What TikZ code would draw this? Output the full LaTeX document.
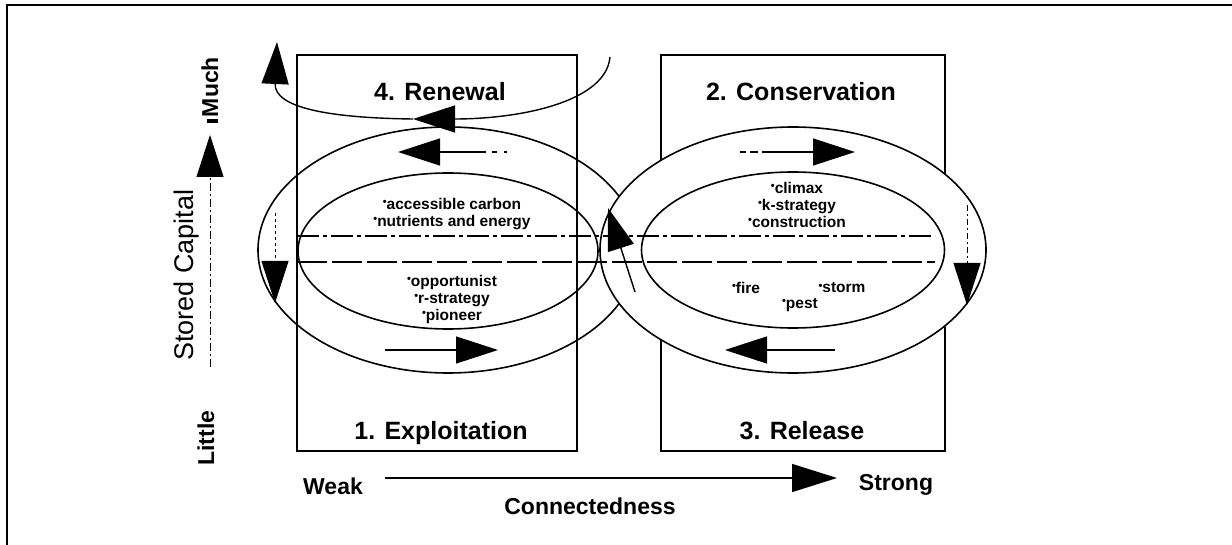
\documentclass[tikz,border=0pt]{standalone}
\usepackage{fontspec}
\setmainfont{Liberation Sans}
\usetikzlibrary{arrows.meta,shapes.geometric}
\newcommand\itm{\raisebox{0.45ex}{\fontsize{11}{11}\selectfont\textbullet}}
\begin{document}
\begin{tikzpicture}[x=1pt,y=-1pt,
  stagebox/.style={draw, line width=1.6pt, inner sep=0pt, outer sep=0pt, anchor=north west},
  loopring/.style={draw, ellipse, line width=1.6pt, inner sep=0pt, outer sep=0pt},
  head/.style={-{Triangle[length=42pt,width=27pt]}, line width=1.4pt},
  stagetitle/.style={font=\fontsize{25}{28}\selectfont\bfseries, anchor=base, inner sep=0pt},
  itemlist/.style={font=\fontsize{15.5}{17}\selectfont\bfseries, align=center, inner sep=0pt},
  axislabel/.style={font=\fontsize{23}{26}\selectfont\bfseries, inner sep=0pt},
  levelline/.style={line width=1.1pt},
]
\useasboundingbox (0,0) rectangle (1232,545);
\clip (0,0) rectangle (1232,545);

% outer frame (runs past the right and bottom edges)
\draw[line width=1.6pt] (7,5) rectangle (1260,570);

% phase boxes
\node[stagebox, minimum width=280pt, minimum height=396pt] (lbox) at (297,55) {};

% left loop: outer and inner rings
\node[loopring, minimum width=380pt, minimum height=246pt] (lout) at (448,250) {};
\node[loopring, minimum width=300pt, minimum height=156pt] (lin) at (448,251) {};

\node[stagebox, minimum width=284pt, minimum height=396pt] (rbox) at (661,55) {};

% right loop sits on top and hides what lies beneath it
\node[loopring, fill=white, minimum width=386pt, minimum height=246pt] (rout) at (793,250) {};
\node[loopring, minimum width=303pt, minimum height=156pt] (rin) at (793,250) {};

% horizontal level lines across both loops
\coordinate (la) at (297,236); \coordinate (lb) at (935,236);
\coordinate (lc) at (297,262); \coordinate (ld) at (935,262);
\draw[levelline, dash pattern=on 22pt off 4pt on 4pt off 4pt] (la) -- (lb);
\draw[levelline, dash pattern=on 30pt off 5pt] (lc) -- (ld);

% phase titles
\node[stagetitle] (t4) at (440,101) {4. Renewal};
\node[stagetitle] (t2) at (801,101) {2. Conservation};
\node[stagetitle] (t1) at (441,439) {1. Exploitation};
\node[stagetitle] (t3) at (802,439) {3. Release};

% contents of the loops
\node[itemlist] (carbon) at (452,214) {\itm accessible carbon\\\itm nutrients and energy};
\node[itemlist] (pioneer) at (452,299) {\itm opportunist\\\itm r-strategy\\\itm pioneer};
\node[itemlist] (climax) at (797,205) {\itm climax\\\itm k-strategy\\\itm construction};
\node[itemlist] (fire) at (746,288) {\itm fire};
\node[itemlist] (storm) at (842,288) {\itm storm};
\node[itemlist] (pest) at (800,305) {\itm pest};

% flow arrows around the loops
\coordinate (b0) at (507,152); \coordinate (b1) at (398,152);
\draw[head, dash pattern=on 3pt off 7pt on 5pt off 6pt on 200pt] (b0) -- (b1);
\coordinate (g0) at (740,152); \coordinate (g1) at (855,152);
\draw[head, dash pattern=on 6pt off 4pt on 8pt off 4pt on 200pt] (g0) -- (g1);
\coordinate (d0) at (385,350); \coordinate (d1) at (498,350);
\draw[head] (d0) -- (d1);
\coordinate (e0) at (835,350); \coordinate (e1) at (725,350);
\draw[head] (e0) -- (e1);
\coordinate (c0) at (275,213); \coordinate (c1) at (275,303);
\draw[head, line width=1pt, dash pattern=on 3pt off 3pt] (c0) -- (c1);
\coordinate (f0) at (967,205); \coordinate (f1) at (967,305);
\draw[head, line width=1pt, dash pattern=on 6pt off 3pt on 2pt off 3pt] (f0) -- (f1);
\coordinate (h0) at (635,292); \coordinate (h1) at (608,208);
\draw[head] (h0) -- (h1);

% renewal exit curve
\coordinate (r0) at (610,57); \coordinate (r1) at (413,119); \coordinate (r2) at (277,42);
\draw[head] (r0) .. controls (606,102) and (520,119) .. (r1);
\draw[head] (r1) .. controls (330,118) and (274,108) .. (r2);

% stored capital axis
\coordinate (v0) at (210,367); \coordinate (v1) at (210,135);
\draw[head, line width=1pt, dash pattern=on 8pt off 3pt on 2pt off 3pt] (v0) -- (v1);
\node[font=\fontsize{27}{29}\selectfont, rotate=90, anchor=base, inner sep=0pt] (stored) at (193,275) {Stored Capital};
\node[axislabel, rotate=90, anchor=base] (little) at (214,438) {Little};
\node[axislabel, rotate=90, anchor=base] (much) at (218,90) {\rule{4pt}{11pt}\hspace{2pt}Much};

% connectedness axis
\coordinate (w0) at (385,478); \coordinate (w1) at (837,478);
\draw[-{Triangle[length=45pt,width=28pt]}, line width=1.4pt] (w0) -- (w1);
\node[axislabel] (weak) at (333,486) {Weak};
\node[axislabel] (strong) at (896,485) {Strong};
\node[axislabel] (conn) at (590,506) {Connectedness};
\end{tikzpicture}
\end{document}
